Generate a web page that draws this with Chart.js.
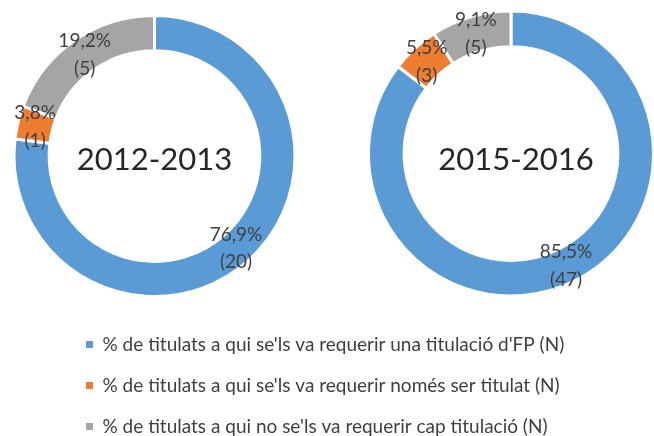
<!DOCTYPE html>
<html>
<head>
<meta charset="utf-8">
<script src="https://cdn.jsdelivr.net/npm/chart.js@4/dist/chart.umd.min.js"></script>
<style>
  html, body { margin: 0; padding: 0; background: #ffffff; }
  body { width: 654px; height: 436px; position: relative; overflow: hidden; }
  canvas { position: absolute; }
</style>
</head>
<body>
<canvas id="c1" width="327" height="312" style="left:0px;top:0px;"></canvas>
<canvas id="c2" width="327" height="312" style="left:327px;top:0px;"></canvas>
<canvas id="cl" width="590" height="134" style="left:64px;top:313px;"></canvas>
<script>
// ---- data ----
const categories = [
  "% de titulats a qui se'ls va requerir una titulació d'FP (N)",
  "% de titulats a qui se'ls va requerir només ser titulat (N)",
  "% de titulats a qui no se'ls va requerir cap titulació (N)"
];
const periods = ["2012-2013", "2015-2016"];
const counts2012 = [20, 1, 5];
const pct2012 = [76.9, 3.8, 19.2];
const counts2015 = [47, 3, 5];
const pct2015 = [85.5, 5.5, 9.1];
const colors = ["#5B9BD5", "#ED7D31", "#A5A5A5"];

const FONT = "Lato, 'Open Sans', sans-serif";
const TEXT = "#404040";

function fmtPct(v) { return v.toFixed(1).replace('.', ',') + '%'; }

const ringLabels = {
  id: 'ringLabels',
  afterDatasetsDraw(chart, args, opts) {
    if (!opts || !opts.pct) return;
    const ctx = chart.ctx;
    const meta = chart.getDatasetMeta(0);
    const data = chart.data.datasets[0].data;
    ctx.save();
    ctx.fillStyle = TEXT;
    ctx.font = "19px " + FONT;
    ctx.textAlign = 'center';
    ctx.textBaseline = 'middle';
    meta.data.forEach((arc, i) => {
      const p = arc.getCenterPoint();
      ctx.fillText(fmtPct(opts.pct[i]), p.x, p.y - 13.5);
      ctx.fillText('(' + data[i] + ')', p.x, p.y + 14);
    });
    // centre title
    const a0 = meta.data[0];
    ctx.fillStyle = '#262626';
    ctx.font = "31px " + FONT;
    ctx.textBaseline = 'alphabetic';
    ctx.fillText(opts.title, a0.x + opts.dx, a0.y + opts.dy);
    ctx.restore();
  }
};

function donut(id, counts, pct, title, padding, radius, dx, dy) {
  return new Chart(document.getElementById(id), {
    type: 'doughnut',
    data: {
      labels: categories,
      datasets: [{
        data: counts,
        backgroundColor: colors,
        borderColor: '#ffffff',
        borderWidth: 3
      }]
    },
    options: {
      responsive: false,
      animation: false,
      events: [],
      radius: radius,
      cutout: '75%',
      layout: { padding: padding },
      plugins: {
        legend: { display: false },
        tooltip: { enabled: false },
        ringLabels: { pct: pct, title: title, dx: dx, dy: dy }
      }
    },
    plugins: [ringLabels]
  });
}

donut('c1', counts2012, pct2012, periods[0], {left: 0, right: 18, top: 0, bottom: 0}, 140.5, 0, 14);
donut('c2', counts2015, pct2015, periods[1], {left: 41, right: 0, top: 0, bottom: 5}, 142.5, 5, 16.5);

// legend-only chart
new Chart(document.getElementById('cl'), {
  type: 'doughnut',
  data: {
    labels: categories,
    datasets: [{ data: counts2015, backgroundColor: colors, borderWidth: 0 }]
  },
  options: {
    responsive: false,
    animation: false,
    events: [],
    radius: 0,
    layout: { padding: 0 },
    plugins: {
      tooltip: { enabled: false },
      legend: {
        display: true,
        position: 'top',
        align: 'start',
        maxHeight: 300,
        labels: {
          boxWidth: 7,
          boxHeight: 7,
          padding: 22,
          color: TEXT,
          font: { family: FONT, size: 19 }
        }
      }
    }
  }
});
</script>
</body>
</html>
